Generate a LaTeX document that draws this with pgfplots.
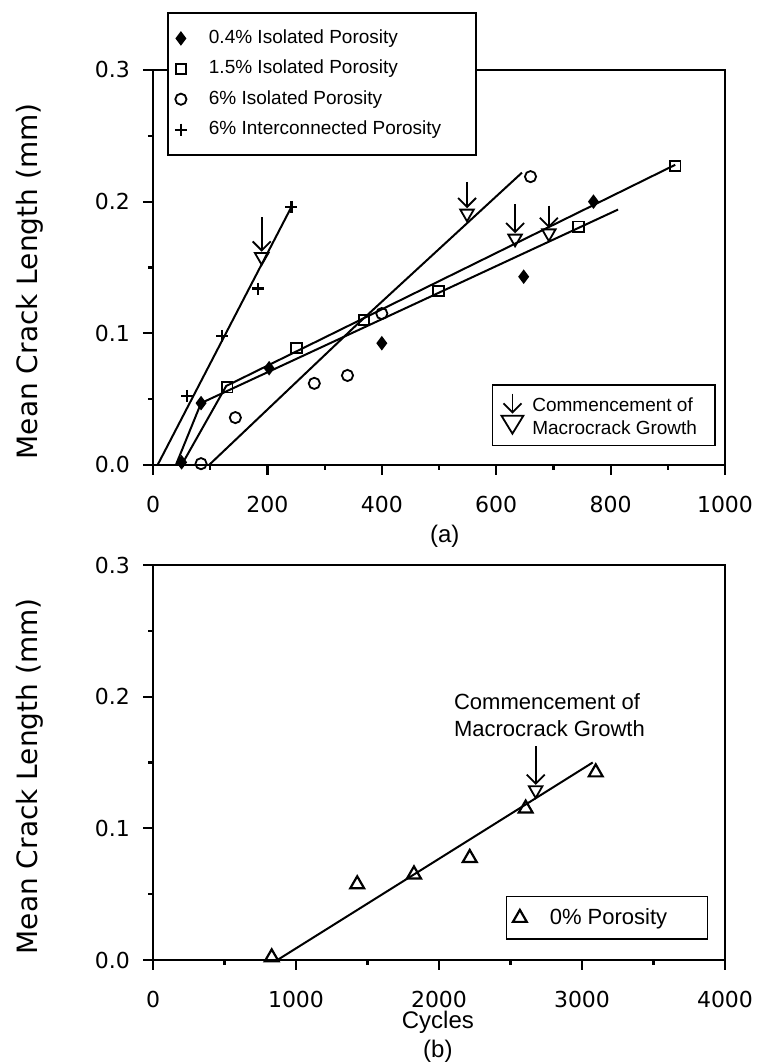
\documentclass[border=0pt]{standalone}
\usepackage{pgfplots}
\pgfplotsset{compat=1.18}
\usepackage{pgfplotstable}
\usepackage{fontspec}
\setmainfont{Liberation Sans}
\newfontfamily\tickfont{DejaVu Sans}
\usetikzlibrary{arrows.meta}

% ---------- panel (a): crack length vs cycles ----------
\pgfplotstableread{
x y
50 0.002
84 0.047
203 0.0735
400 0.0925
648 0.143
770 0.200
}\poreA
\pgfplotstableread{
x y
130 0.059
251 0.089
369 0.110
499 0.132
744 0.181
913 0.227
}\poreB
\pgfplotstableread{
x y
84 0.001
144 0.036
282 0.062
340 0.068
400 0.115
660 0.219
}\poreC
\pgfplotstableread{
x y
60 0.0525
121 0.098
184 0.134
242 0.196
}\poreD
% onset of macrocrack growth, panel (a)
\pgfplotstableread{
x y
190 0.158
549 0.191
633 0.172
692 0.176
}\onsetA

% ---------- panel (b) ----------
\pgfplotstableread{
x y
830 0.002
1428 0.0575
1825 0.065
2215 0.0775
2606 0.115
3096 0.1425
}\poreZero

\pgfplotsset{
  panel/.style={
    width=286pt, height=197.5pt, scale only axis,
    ymin=0, ymax=0.3,
    ytick={0,0.1,0.2,0.3}, yticklabels={0.0,0.1,0.2,0.3},
    minor ytick={0.05,0.15,0.25},
    tick align=outside, xtick pos=left, ytick pos=left,
    major tick length=5pt, minor tick length=2.5pt,
    every tick/.style={line width=1.1pt, black},
    axis line style={line width=1.3pt},
    ticklabel style={font=\tickfont\fontsize{11}{13}\selectfont},
    xticklabel style={yshift=-7pt},
    yticklabel style={xshift=-3pt},
    ylabel={Mean Crack Length (mm)},
    ylabel style={font=\tickfont\fontsize{14}{16}\selectfont,
      at={(axis description cs:-0.215,0.465)}, anchor=center, rotate=0},
    xlabel style={font=\fontsize{12}{14.5}\selectfont, align=center},
  },
  fitline/.style={line width=1pt, black, no marks, forget plot},
  onset/.style={line width=0.9pt, black, -{Straight Barb[length=4.5pt,width=9pt]}, forget plot},
}

\begin{document}
\begin{tikzpicture}
\path[use as bounding box] (0pt,0pt) rectangle (380pt,532pt);

% ===== panel (a) =====
\begin{axis}[panel,
  at={(76.5pt,299.5pt)}, anchor=south west,
  xmin=0, xmax=1000,
  xtick={0,200,400,600,800,1000}, xticklabels={0,200,400,600,800,1000},
  minor xtick={100,300,500,700,900},
  xlabel={(a)},
  xlabel style={at={(axis description cs:0.51,-0.135)}, anchor=north},
  legend cell align=left,
  legend style={at={(axis description cs:0.0245,1.147)}, anchor=north west,
    draw=black, line width=0.9pt, fill=white,
    font=\fontsize{9.5}{11}\selectfont,
    nodes={inner sep=0pt, text height=6.8pt, text depth=1.8pt},
    row sep=6.6pt, column sep=11pt, inner xsep=3.5pt, inner ysep=8.5pt},
]
\addplot[fitline] coordinates {(40,0) (84,0.047) (813,0.194)};
\addplot[fitline] coordinates {(50,0) (128,0.060) (913,0.228)};
\addplot[fitline] coordinates {(98,0) (350,0.104) (645,0.222)};
\addplot[fitline] coordinates {(8,0) (242,0.196)};

\addplot[only marks, mark=diamond*, mark size=3pt,
  mark options={fill=black, line width=0.8pt}] table {\poreA};
\addlegendentry{0.4\% Isolated Porosity}
\addplot[only marks, mark=square, mark size=2.6pt,
  mark options={fill=white, line width=0.9pt}] table {\poreB};
\addlegendentry{1.5\% Isolated Porosity}
\addplot[only marks, mark=o, mark size=2.8pt,
  mark options={fill=white, line width=0.9pt}] table {\poreC};
\addlegendentry{6\% Isolated Porosity}
\addplot[only marks, mark=+, mark size=3pt,
  mark options={line width=1.1pt}] table {\poreD};
\addlegendentry{6\% Interconnected Porosity\hspace*{14pt}}
\end{axis}

% onset markers for panel (a), with their own key
\begin{axis}[
  at={(76.5pt,299.5pt)}, anchor=south west,
  width=286pt, height=197.5pt, scale only axis,
  xmin=0, xmax=1000, ymin=0, ymax=0.3,
  hide axis,
  legend cell align=left,
  legend style={at={(axis description cs:0.592,0.047)}, anchor=south west,
    draw=black, line width=0.9pt, fill=white,
    font=\fontsize{9.5}{11.5}\selectfont,
    nodes={inner sep=0pt, align=left},
    column sep=4pt, inner xsep=4pt, inner ysep=4pt},
  legend image code/.code={
    \draw[line width=0.9pt,-{Straight Barb[length=4.5pt,width=9pt]}] (0.3cm,12pt) -- (0.3cm,2pt);
    \draw[line width=0.9pt] (0.3cm-5.5pt,1pt) -- (0.3cm+5.5pt,1pt) -- (0.3cm,-8pt) -- cycle;
  },
]
\addplot[onset] coordinates {(190,0.188) (190,0.162)};
\addplot[onset] coordinates {(549,0.215) (549,0.195)};
\addplot[onset] coordinates {(633,0.198) (633,0.176)};
\addplot[onset] coordinates {(692,0.197) (692,0.180)};
\addplot[only marks, mark=triangle, mark size=3.9pt,
  mark options={rotate=180, fill=white, line width=0.9pt}] table {\onsetA};
\addlegendentry{Commencement of\\Macrocrack Growth\hspace*{5pt}}
\end{axis}

% ===== panel (b) =====
\begin{axis}[panel,
  at={(76.5pt,52pt)}, anchor=south west,
  xmin=0, xmax=4000,
  xtick={0,1000,2000,3000,4000}, xticklabels={0,1000,2000,3000,4000},
  minor xtick={500,1500,2500,3500},
  xlabel={Cycles\\(b)},
  xlabel style={at={(axis description cs:0.498,-0.112)}, anchor=north},
  legend cell align=left,
  legend style={at={(axis description cs:0.6165,0.05)}, anchor=south west,
    draw=black, line width=0.9pt, fill=white,
    font=\fontsize{11}{13}\selectfont,
    nodes={inner sep=0pt},
    column sep=11.5pt, inner xsep=3.2pt, inner ysep=6pt},
]
\addplot[fitline] coordinates {(870,0) (3075,0.150)};
\addplot[onset] coordinates {(2676,0.1625) (2676,0.133)};
\addplot[only marks, mark=triangle, mark size=3.9pt,
  mark options={rotate=180, fill=white, line width=0.9pt}, forget plot]
  coordinates {(2676,0.129)};
\addplot[only marks, mark=triangle, mark size=4pt,
  mark options={fill=white, line width=1.1pt}] table {\poreZero};
\addlegendentry{0\% Porosity\hspace*{17pt}}
\node[anchor=west, align=left, font=\fontsize{11}{13.2}\selectfont]
  at (axis cs:2056,0.186) {Commencement of\\Macrocrack Growth};
\end{axis}
\end{tikzpicture}
\end{document}
